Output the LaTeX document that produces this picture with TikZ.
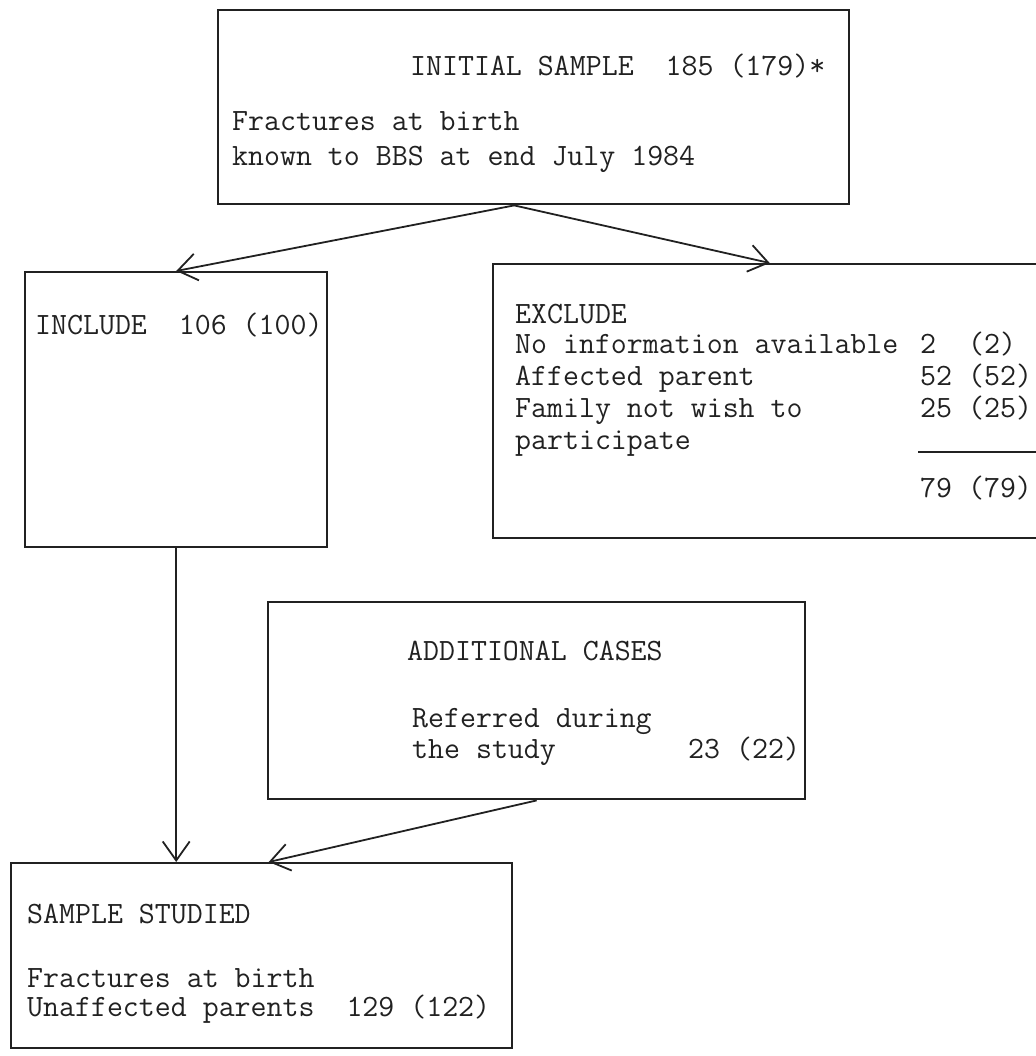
\documentclass[tikz,border=0pt]{standalone}
\usepackage{fontspec}
\usepackage{tikz}
\usetikzlibrary{arrows.meta}
\definecolor{ink}{gray}{0.13}
\tikzset{
  cbox/.style={draw=ink, line width=2.4pt, anchor=north west, inner sep=0pt},
  ttext/.style={anchor=base west, inner sep=0pt, text=ink, font={\fontsize{31}{33}\selectfont\ttfamily\addfontfeatures{FakeBold=1.2}}},
  arr/.style={draw=ink, line width=1.8pt, -{Straight Barb[length=19pt, width=27pt]}},
  rule/.style={draw=ink, line width=1.8pt},
}

\begin{document}
\begin{tikzpicture}[x=1pt, y=-1pt]
\useasboundingbox (0,0) rectangle (1035,1056);
% frames
\node[cbox, minimum width=631pt, minimum height=194pt] (init) at (217,9) {};
\node[cbox, minimum width=302pt, minimum height=275pt] (incl) at (24,271) {};
\node[cbox, minimum width=553pt, minimum height=274pt] (excl) at (492,263) {};
\node[cbox, minimum width=537pt, minimum height=197pt] (addc) at (267,601) {};
\node[cbox, minimum width=501pt, minimum height=185pt] (samp) at (10,862) {};
% initial sample
\node[ttext] (initA) at (410,76) {INITIAL SAMPLE\ \ 185 (179)*};
\node[ttext] (initB) at (232,131) {Fractures at birth};
\node[ttext] (initC) at (232,166) {known to BBS at end July 1984};
% include
\node[ttext] (inclA) at (35,334) {INCLUDE\ \ 106 (100)};
% exclude
\foreach \y/\t [count=\i] in {323/EXCLUDE, 353/No information available, 385/Affected parent, 417/Family not wish to, 449/participate}
  \node[ttext] (exl\i) at (515,\y) {\t};
\foreach \y/\t [count=\i] in {353/{2\ \ (2)}, 385/{52 (52)}, 417/{25 (25)}, 497/{79 (79)}}
  \node[ttext] (exn\i) at (920,\y) {\t};
\coordinate (sumL) at (918,452);
\coordinate (sumR) at (1040,452);
\draw[rule] (sumL) -- (sumR);
% additional cases
\node[ttext] (addA) at (407,660) {ADDITIONAL CASES};
\node[ttext] (addB) at (412,727) {Referred during};
\node[ttext] (addC) at (412,758) {the study};
\node[ttext] (addN) at (688,758) {23 (22)};
% sample studied
\node[ttext] (sampA) at (27,923) {SAMPLE STUDIED};
\node[ttext] (sampB) at (27,987) {Fractures at birth};
\node[ttext] (sampC) at (27,1016) {Unaffected parents\ \ 129 (122)};
% arrows
\draw[arr] ([xshift=-19.5pt]init.south) -- (incl.north);
\draw[arr] ([xshift=-19.5pt]init.south) -- (excl.north);
\draw[arr] (incl.south) -- (incl.south |- samp.north);
\draw[arr] (addc.south) -- ([xshift=7pt]samp.north);
\end{tikzpicture}
\end{document}
